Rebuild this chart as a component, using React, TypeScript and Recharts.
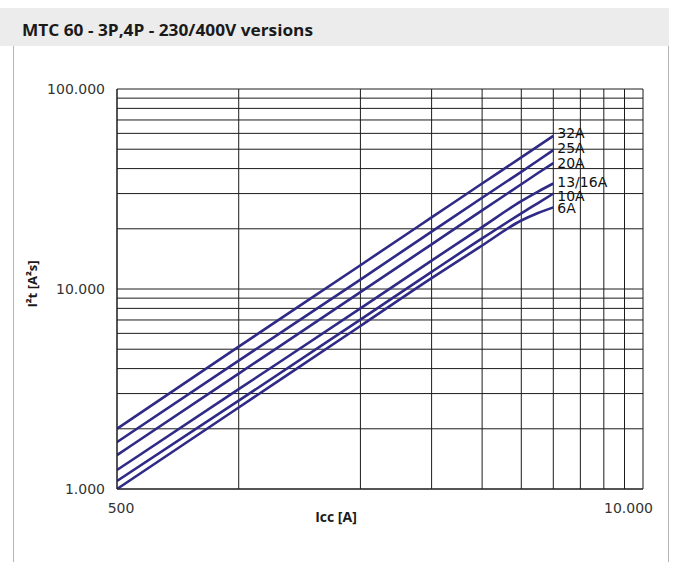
import React from 'react';
import { LineChart, Line, XAxis, YAxis, CartesianGrid } from 'recharts';

// Let-through energy I²t [A²s] against prospective short-circuit current Icc [A]
const currents = [500, 1000, 2000, 3000, 4000, 5000, 5500, 6000];
const i2t32A = [2000, 5150, 13150, 22800, 33700, 45500, 51800, 58300];
const i2t25A = [1715, 4380, 11150, 19350, 28600, 38550, 43900, 49500];
const i2t20A = [1478, 3776, 9640, 16730, 24720, 33400, 38000, 42600];
const i2t16A = [1244, 3155, 8000, 13870, 20400, 27500, 30700, 33700];
const i2t10A = [1096, 2766, 7030, 12170, 17900, 23900, 26900, 30000];
const i2t6A = [1000, 2556, 6530, 11330, 16500, 22000, 24000, 25600];

const xTicks = [500, 1000, 2000, 3000, 4000, 5000, 6000, 7000, 8000, 9000, 10000];
const yTicks = [
  1000, 2000, 3000, 4000, 5000, 6000, 7000, 8000, 9000,
  10000, 20000, 30000, 40000, 50000, 60000, 70000, 80000, 90000, 100000,
];
const xLabelled = [500, 10000];
const yLabelled = [1000, 10000, 100000];

const CURVE = '#2f2a86';
const GRID = '#1c1c1c';
const TICK_FONT = '"DejaVu Sans", sans-serif';
const BOLD_FONT = '"Open Sans", sans-serif';

const series = [
  { key: 'a32', name: '32A', values: i2t32A, dy: -3 },
  { key: 'a25', name: '25A', values: i2t25A, dy: -2 },
  { key: 'a20', name: '20A', values: i2t20A, dy: 0 },
  { key: 'a16', name: '13/16A', values: i2t16A, dy: -2 },
  { key: 'a10', name: '10A', values: i2t10A, dy: 2 },
  { key: 'a6', name: '6A', values: i2t6A, dy: 1 },
];

const chartData = currents.map((icc, i) => {
  const row: Record<string, number> = { icc };
  series.forEach(s => {
    row[s.key] = s.values[i];
  });
  return row;
});

const fmt = (v: number) => String(v).replace(/\B(?=(\d{3})+(?!\d))/g, '.');

const YTick = (props: any) => {
  const { x, y, payload } = props;
  if (!yLabelled.includes(payload.value)) return null;
  return (
    <text x={x} y={y} dy="0.36em" textAnchor="end" fontFamily={TICK_FONT} fontSize={14} fill="#333">
      {fmt(payload.value)}
    </text>
  );
};

const XTick = (props: any) => {
  const { x, y, payload } = props;
  if (!xLabelled.includes(payload.value)) return null;
  const last = payload.value === 10000;
  return (
    <text
      x={last ? x + 10 : x + 4}
      y={y}
      dy="0.71em"
      textAnchor={last ? 'end' : 'middle'}
      fontFamily={TICK_FONT}
      fontSize={14}
      fill="#333"
    >
      {fmt(payload.value)}
    </text>
  );
};

const endLabel = (name: string, dy: number) => (props: any) => {
  const { x, y, index } = props;
  if (index !== currents.length - 1) return null;
  return (
    <text key={name} x={x + 4} y={y + dy} dy="0.36em" fontFamily={TICK_FONT} fontSize={14} fill="#111">
      {name}
    </text>
  );
};

export default function App() {
  return (
    <div style={{ position: 'absolute', left: 0, top: 0, width: 675, height: 562, background: '#fff' }}>
      <div style={{ position: 'absolute', left: 0, top: 8, width: 669, height: 38, background: '#ececec' }}>
        <svg width={669} height={38} style={{ display: 'block' }}>
          <text
            x={22}
            y={28}
            fontFamily={BOLD_FONT}
            fontWeight={700}
            fontSize={16}
            fill="#1a1a1a"
            textLength={291}
            lengthAdjust="spacingAndGlyphs"
          >
            MTC 60 - 3P,4P - 230/400V versions
          </text>
        </svg>
      </div>
      <div
        style={{
          position: 'absolute',
          left: 13,
          top: 46,
          width: 654,
          height: 516,
          borderLeft: '1px solid #b4b4b4',
          borderRight: '1px solid #b4b4b4',
        }}
      />
      <div style={{ position: 'absolute', left: 0, top: 0 }}>
        <LineChart width={675} height={562} data={chartData} margin={{ top: 89, right: 32, left: 57, bottom: 33 }}>
          <CartesianGrid stroke={GRID} strokeWidth={1} />
          <XAxis
            dataKey="icc"
            type="number"
            scale="log"
            domain={[500, 10000]}
            ticks={xTicks}
            interval={0}
            allowDataOverflow
            height={40}
            tickSize={0}
            tickMargin={14}
            axisLine={{ stroke: GRID }}
            tick={<XTick />}
          />
          <YAxis
            type="number"
            scale="log"
            domain={[1000, 100000]}
            ticks={yTicks}
            interval={0}
            allowDataOverflow
            width={60}
            tickSize={0}
            tickMargin={12}
            axisLine={{ stroke: GRID }}
            tick={<YTick />}
          />
          {series.map(s => (
            <Line
              key={s.key}
              dataKey={s.key}
              type="monotone"
              stroke={CURVE}
              strokeWidth={2.6}
              dot={false}
              isAnimationActive={false}
              label={endLabel(s.name, s.dy)}
            />
          ))}
        </LineChart>
      </div>
      <svg width={675} height={562} style={{ position: 'absolute', left: 0, top: 0, pointerEvents: 'none' }}>
        <text
          x={336}
          y={522}
          textAnchor="middle"
          fontFamily={BOLD_FONT}
          fontWeight={700}
          fontSize={14}
          fill="#1a1a1a"
        >
          Icc [A]
        </text>
        <text
          transform="translate(37,284) rotate(-90)"
          textAnchor="middle"
          fontFamily={BOLD_FONT}
          fontWeight={700}
          fontSize={13}
          fill="#1a1a1a"
        >
          I²t [A²s]
        </text>
      </svg>
    </div>
  );
}
